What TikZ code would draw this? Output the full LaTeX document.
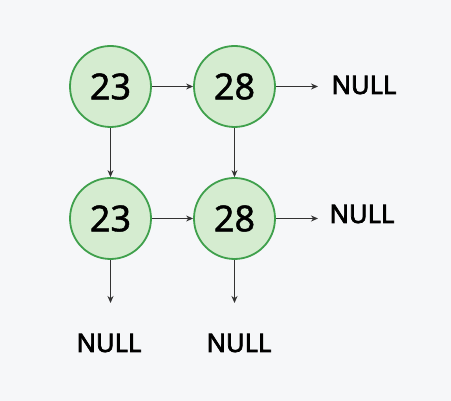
\documentclass[tikz,border=0pt]{standalone}
\usepackage{fontspec}
\setmainfont{Noto Sans}
\newfontfamily\numfont{Noto Sans}[FakeBold=1.2]
\newfontfamily\nulltextfont{Noto Sans}[FakeBold=2.8]
\usetikzlibrary{arrows.meta}
\definecolor{bg}{HTML}{F6F7F9}
\definecolor{nodefill}{HTML}{D5ECD0}
\definecolor{nodeline}{HTML}{3FA04C}
\definecolor{arr}{HTML}{333333}
\tikzset{
  listnode/.style={circle, draw=nodeline, fill=nodefill, line width=1.8pt, minimum size=81pt, inner sep=0pt, font=\numfont\fontsize{36}{40}\selectfont},
  nulltxt/.style={font=\nulltextfont\fontsize{25.5}{28}\selectfont, inner sep=0pt},
  link/.style={draw=arr, line width=0.9pt, -{Stealth[length=7pt,width=6pt]}}
}
\begin{document}
\begin{tikzpicture}[x=1pt,y=1pt]
\fill[bg] (0,0) rectangle (451,401);
\useasboundingbox (0,0) rectangle (451,401);
\node[listnode] (a) at (110.5,314.5) {23};
\node[listnode] (b) at (234.5,314.5) {28};
\node[listnode] (c) at (110.5,182.5) {23};
\node[listnode] (d) at (234.5,182.5) {28};
\node[nulltxt] (n1) at (364,316) {NULL};
\node[nulltxt] (n2) at (362,187) {NULL};
\node[nulltxt] (n3) at (109,58) {NULL};
\node[nulltxt] (n4) at (239,58) {NULL};
\coordinate (e1) at (318,314.5);
\coordinate (e2) at (318,182.5);
\coordinate (e3) at (110.5,98);
\coordinate (e4) at (234.5,98);
\draw[link] (a) -- (b);
\draw[link] (c) -- (d);
\draw[link] (a) -- (c);
\draw[link] (b) -- (d);
\draw[link] (b) -- (e1);
\draw[link] (d) -- (e2);
\draw[link] (c) -- (e3);
\draw[link] (d) -- (e4);
\end{tikzpicture}
\end{document}
